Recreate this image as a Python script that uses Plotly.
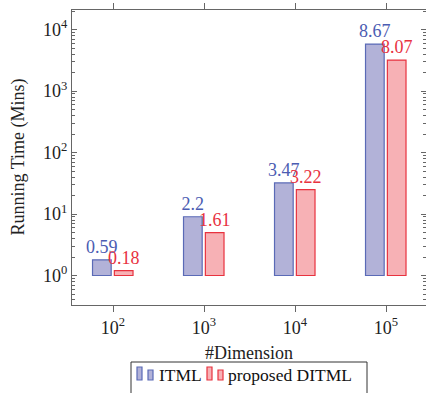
import plotly.graph_objects as go

# ---- data ----
dimensions = ["10<sup>2</sup>", "10<sup>3</sup>", "10<sup>4</sup>", "10<sup>5</sup>"]
itml_time = [1.80, 9.03, 32.1, 5830.0]      # running time (mins)
ditml_time = [1.20, 5.00, 25.0, 3200.0]
itml_labels = ["0.59", "2.2", "3.47", "8.67"]
ditml_labels = ["0.18", "1.61", "3.22", "8.07"]
y_tickvals = [1, 10, 100, 1000, 10000]
y_ticktext = ["10<sup>0</sup>", "10<sup>1</sup>", "10<sup>2</sup>", "10<sup>3</sup>", "10<sup>4</sup>"]
BASE = 1.0

W, H = 426, 393
ML, MR, MT, MB = 72, 0, 10, 88
PW, PH = W - ML - MR, H - MT - MB

FONT = "Liberation Serif, Times New Roman, serif"
BLUE_FILL, BLUE_LINE, BLUE_TEXT = "#b2b2d8", "#5a6ab6", "#4b5cb2"
RED_FILL, RED_LINE, RED_TEXT = "#f7b1b5", "#e8323f", "#e8323f"
axcol = "#666666"

# minor tick positions (2..9 within each decade)
minor_vals = [m * 10.0 ** k for k in range(-1, 5) for m in range(2, 10)]

x = list(range(len(dimensions)))

fig = go.Figure()
fig.add_trace(go.Bar(
    x=x, y=[t - BASE for t in itml_time], base=BASE,
    width=0.205, offset=-0.225,
    marker=dict(color=BLUE_FILL, line=dict(color=BLUE_LINE, width=1.2)),
    text=itml_labels, textposition="outside", constraintext="none",
    textfont=dict(color=BLUE_TEXT, size=18, family=FONT),
    cliponaxis=False, name="ITML", showlegend=False))
fig.add_trace(go.Bar(
    x=x, y=[t - BASE for t in ditml_time], base=BASE,
    width=0.205, offset=0.015,
    marker=dict(color=RED_FILL, line=dict(color=RED_LINE, width=1.2)),
    text=ditml_labels, textposition="outside", constraintext="none",
    textfont=dict(color=RED_TEXT, size=18, family=FONT),
    cliponaxis=False, name="proposed DITML", showlegend=False))
# invisible helper trace so the right-hand tick axis is drawn
fig.add_trace(go.Scatter(x=[None], y=[None], yaxis="y2", showlegend=False, hoverinfo="skip"))

yrange = [-0.48, 4.32]
minor_cfg = dict(tickmode="array", tickvals=minor_vals, ticks="inside", ticklen=3,
                 tickcolor=axcol, tickwidth=1, showgrid=False)
fig.update_layout(
    xaxis=dict(
        range=[-0.4505, -0.4505 + PW / 91.0],
        tickvals=x, ticktext=dimensions,
        ticks="outside", ticklen=6, tickcolor=axcol, tickwidth=1,
        showline=True, linecolor=axcol, linewidth=1, mirror="ticks",
        showgrid=False, zeroline=False,
        tickfont=dict(family=FONT, size=18, color="#222")),
    yaxis=dict(
        type="log", range=yrange,
        tickvals=y_tickvals, ticktext=y_ticktext,
        ticks="inside", ticklen=5, tickcolor=axcol, tickwidth=1,
        minor=minor_cfg,
        showline=True, linecolor=axcol, linewidth=1, mirror=False,
        showgrid=False, zeroline=False,
        tickfont=dict(family=FONT, size=18, color="#222")),
    yaxis2=dict(
        type="log", range=yrange, overlaying="y", side="right",
        tickvals=y_tickvals, showticklabels=False,
        ticks="inside", ticklen=5, tickcolor=axcol, tickwidth=1,
        minor=minor_cfg,
        showline=False, showgrid=False, zeroline=False),
)


def px(xp):
    return (xp - ML) / PW


def py(yp):
    return (H - MB - yp) / PH


anns = [
    dict(text="#Dimension", x=px(249), y=py(353), xref="paper", yref="paper",
         xanchor="center", yanchor="middle", showarrow=False,
         font=dict(family=FONT, size=18, color="#222")),
    dict(text="Running Time (Mins)", x=px(18), y=py(157.5), xref="paper", yref="paper",
         xanchor="center", yanchor="middle", textangle=-90, showarrow=False,
         font=dict(family=FONT, size=18, color="#222")),
    dict(text="ITML", x=px(157), y=py(375), xref="paper", yref="paper",
         xanchor="left", yanchor="middle", showarrow=False,
         font=dict(family=FONT, size=17.5, color="#111")),
    dict(text="proposed DITML", x=px(226), y=py(375), xref="paper", yref="paper",
         xanchor="left", yanchor="middle", showarrow=False,
         font=dict(family=FONT, size=17.5, color="#111")),
]

shapes = [
    dict(type="rect", xref="paper", yref="paper", x0=px(131), x1=px(367),
         y0=py(362), y1=py(400), line=dict(color="#333", width=1), fillcolor="white", layer="above"),
]
for (x0, x1, y0, fill, line) in [
    (137, 142, 367, BLUE_FILL, BLUE_LINE), (148, 153, 370, BLUE_FILL, BLUE_LINE),
    (207, 212, 367, RED_FILL, RED_LINE), (218, 223, 370, RED_FILL, RED_LINE)]:
    shapes.append(dict(type="rect", xref="paper", yref="paper", x0=px(x0), x1=px(x1),
                       y0=py(380), y1=py(y0), fillcolor=fill,
                       line=dict(color=line, width=1.2), layer="above"))

fig.update_layout(
    width=W, height=H, margin=dict(l=ML, r=MR, t=MT, b=MB),
    plot_bgcolor="white", paper_bgcolor="white",
    barmode="overlay", showlegend=False,
    annotations=anns, shapes=shapes,
    font=dict(family=FONT, size=18, color="#222"))

fig.write_html("out.html")
